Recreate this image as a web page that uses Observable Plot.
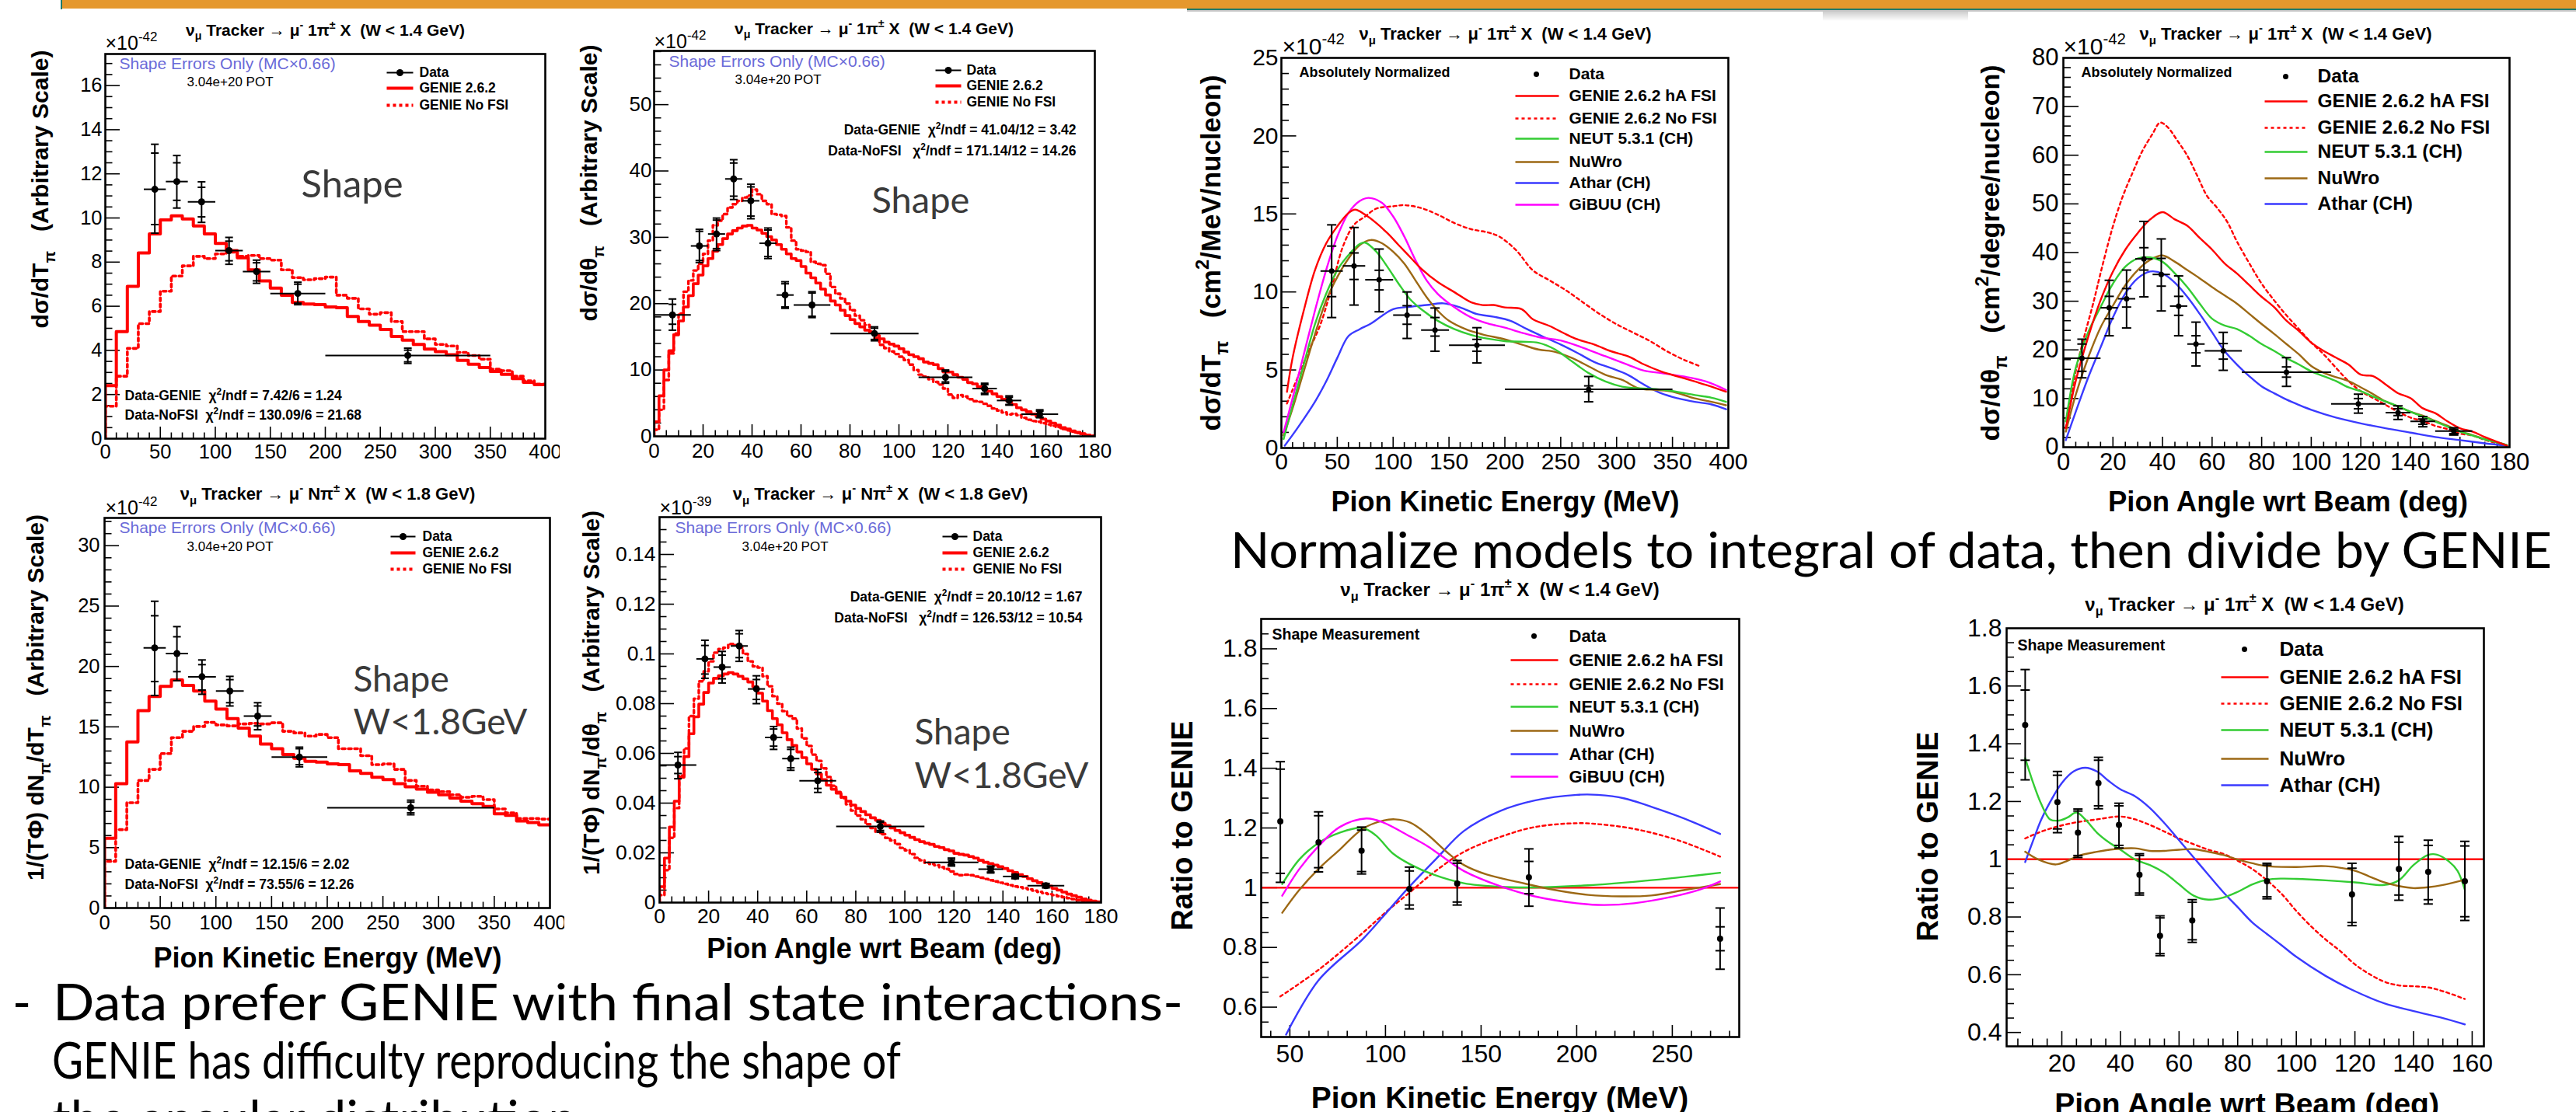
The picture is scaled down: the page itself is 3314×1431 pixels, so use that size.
<!DOCTYPE html>
<html>
<head>
<meta charset="utf-8">
<title>Charged pion production: shape and model comparisons</title>
<script src="https://cdn.jsdelivr.net/npm/d3@7"></script>
<script src="https://cdn.jsdelivr.net/npm/@observablehq/plot@0.6"></script>
<style>
  html, body { margin: 0; padding: 0; background: #fff; }
  #slide { position: relative; width: 3314px; height: 1431px; overflow: hidden; background: #fff; }
  #slide > svg, #slide > div { position: absolute; }
</style>
</head>
<body>
<div id="slide"></div>
<script>
// ---------------- binning ----------------
const tpiX  = [45, 65, 87.5, 112.5, 137.5, 175, 275];
const tpiLo = [35, 55, 75, 100, 125, 150, 200];
const tpiHi = [55, 75, 100, 125, 150, 200, 350];
const thX  = [7.5, 18.5, 25.5, 32.5, 39.5, 46.5, 53.5, 64.5, 90, 119, 135, 145, 157.5];
const thLo = [0, 15, 22, 29, 36, 43, 50, 57, 72, 108, 130, 140, 150];
const thHi = [15, 22, 29, 36, 43, 50, 57, 72, 108, 130, 140, 150, 165];

// ---------------- shape plots, W < 1.4 GeV, T_pi (x1e-42) ----------------
const shT14Y     = [11.3, 11.65, 10.73, 8.52, 7.57, 6.58, 3.77];
const shT14OutLo = [9.31, 10.45, 9.8, 7.9, 7.04, 6.07, 3.41];
const shT14OutHi = [13.34, 12.83, 11.64, 9.12, 8.09, 7.09, 4.1];
const shT14InLo  = [9.7, 10.8, 10.05, 8.06, 7.15, 6.14, 3.48];
const shT14InHi  = [12.94, 12.5, 11.39, 8.95, 7.97, 7.0, 4.01];
// 10 MeV histogram bins starting at 0
const genieT14 = [2.4, 4.85, 6.9, 8.42, 9.28, 9.91, 10.1, 9.96, 9.64, 9.28, 8.85, 8.52, 8.2, 7.65, 7.15, 6.82, 6.5, 6.17, 6.1, 6.07,
  5.97, 5.93, 5.54, 5.31, 5.14, 4.95, 4.63, 4.46, 4.27, 4.06, 3.94, 3.8, 3.55, 3.37, 3.22, 3.05, 2.91, 2.72, 2.55, 2.45];
const noFsiT14 = [1.47, 2.83, 4.09, 5.21, 5.76, 6.68, 7.37, 7.83, 8.26, 8.16, 8.37, 8.45, 8.26, 8.3, 8.16, 8.09, 7.65, 7.3, 7.2, 7.25,
  7.32, 6.5, 6.36, 5.88, 5.64, 5.71, 5.31, 4.85, 4.85, 4.52, 4.27, 4.2, 3.91, 3.77, 3.6, 3.15, 3.08, 2.83, 2.62, 2.47];

// ---------------- shape plots, W < 1.4 GeV, theta_pi (x1e-42) ----------------
const shA14Y     = [18.3, 28.7, 30.5, 38.8, 35.5, 29.1, 21.3, 19.8, 15.5, 8.9, 7.2, 5.4, 3.35];
const shA14OutLo = [16.0, 26.2, 28.0, 35.7, 32.8, 26.8, 19.3, 17.9, 14.4, 8.0, 6.3, 4.7, 2.8];
const shA14OutHi = [20.7, 31.2, 32.9, 41.7, 38.0, 31.4, 23.3, 21.8, 16.5, 10.0, 8.0, 6.1, 4.0];
const shA14InLo  = [16.9, 26.5, 28.3, 36.2, 33.2, 27.1, 19.5, 18.1, 14.6, 8.2, 6.5, 4.8, 2.9];
const shA14InHi  = [19.9, 30.9, 32.6, 41.2, 37.6, 31.1, 23.0, 21.6, 16.3, 9.8, 7.8, 5.9, 3.8];
// 2 degree histogram bins starting at 0
const genieA14 = [2.2, 6.1, 10.0, 12.9, 15.3, 17.4, 19.5, 21.2, 23.0, 24.3, 25.7, 26.8, 27.9, 28.9, 29.8, 30.5, 31.0, 31.4, 31.7, 31.8,
  31.4, 31.1, 30.6, 30.1, 29.6, 28.9, 28.2, 27.5, 26.8, 26.5, 25.6, 24.6, 23.9, 23.1, 22.2, 21.3, 20.4, 19.8, 19.0, 18.2,
  17.6, 17.0, 16.5, 16.0, 15.6, 15.2, 14.7, 14.2, 13.9, 13.6, 13.2, 12.7, 12.3, 12.0, 11.7, 11.2, 11.0, 10.8, 10.2, 9.7,
  9.7, 9.3, 8.9, 8.6, 8.1, 7.9, 7.5, 7.2, 6.8, 6.4, 6.0, 5.6, 5.3, 4.8, 4.3, 4.0, 3.7, 3.35, 3.0, 2.6,
  2.3, 2.0, 1.7, 1.3, 1.1, 0.8, 0.6, 0.4, 0.2, 0.05];
const noFsiA14 = [1.0, 4.0, 8.5, 12.5, 15.5, 18.5, 21.8, 23.5, 25.0, 26.0, 27.5, 29.5, 31.8, 32.5, 33.5, 34.5, 35.0, 35.5, 36.0, 36.3,
  37.2, 36.5, 35.5, 35.0, 33.5, 33.4, 33.2, 31.5, 29.5, 28.2, 28.0, 27.8, 26.3, 26.0, 25.8, 24.5, 22.5, 21.5, 20.8, 20.0,
  19.0, 18.2, 17.5, 16.8, 15.8, 14.8, 13.8, 13.3, 12.8, 12.4, 12.0, 11.5, 10.8, 10.0, 9.3, 9.0, 8.6, 8.2, 7.8, 7.2,
  6.3, 5.8, 6.2, 6.0, 5.6, 5.3, 5.2, 4.9, 4.6, 4.2, 3.9, 3.6, 3.3, 3.4, 3.2, 2.8, 2.5, 2.3, 2.2, 2.0,
  1.8, 1.6, 1.4, 1.1, 0.9, 0.7, 0.5, 0.35, 0.2, 0.1];

// ---------------- shape plots, W < 1.8 GeV, T_pi (x1e-42) ----------------
const shT18Y     = [21.54, 21.07, 19.15, 17.97, 15.89, 12.5, 8.3];
const shT18OutLo = [17.6, 18.83, 17.7, 16.73, 14.76, 11.69, 7.72];
const shT18OutHi = [25.4, 23.3, 20.54, 19.18, 17.0, 13.32, 8.93];
const shT18InLo  = [18.75, 19.57, 18.05, 17.0, 15.08, 11.87, 7.88];
const shT18InHi  = [24.2, 22.46, 20.15, 18.91, 16.73, 13.19, 8.77];
const genieT18 = [5.78, 10.3, 13.76, 16.34, 17.52, 18.36, 18.89, 18.44, 17.97, 17.13, 16.47, 15.68, 14.89, 14.24, 13.58, 13.19, 12.71, 12.4, 12.14, 12.08,
  11.93, 11.87, 11.35, 11.14, 10.82, 10.64, 10.3, 10.03, 9.85, 9.59, 9.38, 9.11, 8.85, 8.64, 8.41, 7.8, 7.67, 7.2, 7.07, 6.88];
const noFsiT18 = [3.86, 6.49, 8.72, 10.56, 11.48, 12.79, 14.11, 14.63, 15.03, 15.37, 15.16, 15.08, 15.24, 15.29, 15.24, 15.34, 14.63, 14.5, 14.24, 14.37,
  14.11, 13.19, 13.19, 12.61, 11.87, 11.93, 11.48, 10.56, 10.09, 9.77, 9.64, 9.38, 9.17, 9.25, 8.98, 8.2, 7.88, 7.41, 7.41, 7.36];

// ---------------- shape plots, W < 1.8 GeV, theta_pi (x1e-39) ----------------
const shA18Y     = [0.0553, 0.098, 0.0947, 0.1032, 0.0859, 0.0664, 0.0579, 0.049, 0.0306, 0.0162, 0.0134, 0.0105, 0.0068];
const shA18OutLo = [0.0498, 0.0902, 0.0883, 0.097, 0.08, 0.0616, 0.0532, 0.0443, 0.0283, 0.0147, 0.0119, 0.0096, 0.0059];
const shA18OutHi = [0.0604, 0.1055, 0.101, 0.1094, 0.0912, 0.0708, 0.0625, 0.0536, 0.0328, 0.0179, 0.0147, 0.0114, 0.0077];
const shA18InLo  = [0.0519, 0.0919, 0.09, 0.0985, 0.0817, 0.0629, 0.0542, 0.0459, 0.029, 0.0152, 0.0123, 0.0099, 0.0062];
const shA18InHi  = [0.0587, 0.1034, 0.0995, 0.1081, 0.0897, 0.0698, 0.0616, 0.0523, 0.0323, 0.0172, 0.0143, 0.0111, 0.0074];
const genieA18 = [0.0064, 0.0179, 0.0304, 0.0408, 0.0504, 0.0587, 0.0679, 0.0747, 0.0798, 0.0845, 0.0883, 0.0902, 0.0912, 0.0919, 0.0925, 0.0919, 0.091, 0.09, 0.0887, 0.0868,
  0.0842, 0.081, 0.0772, 0.074, 0.0715, 0.0683, 0.0655, 0.0632, 0.0606, 0.0583, 0.0558, 0.0536, 0.0517, 0.0494, 0.0472, 0.0456, 0.044, 0.0424, 0.0408, 0.0392,
  0.0379, 0.0366, 0.0353, 0.0341, 0.0331, 0.0319, 0.031, 0.03, 0.029, 0.0281, 0.0271, 0.0262, 0.0253, 0.0245, 0.0239, 0.0234, 0.0226, 0.0221, 0.0213, 0.0208,
  0.0198, 0.0194, 0.0191, 0.0185, 0.0179, 0.017, 0.0162, 0.0157, 0.0151, 0.0144, 0.0137, 0.0128, 0.0121, 0.0112, 0.0105, 0.0096, 0.0088, 0.008, 0.0073, 0.0066,
  0.0057, 0.005, 0.0042, 0.0034, 0.0028, 0.0022, 0.0015, 0.001, 0.0006, 0.0003];
const noFsiA18 = [0.003, 0.013, 0.026, 0.038, 0.051, 0.062, 0.075, 0.082, 0.089, 0.093, 0.097, 0.1005, 0.102, 0.1025, 0.104, 0.1035, 0.1025, 0.1, 0.097, 0.095,
  0.0945, 0.091, 0.087, 0.083, 0.08, 0.077, 0.075, 0.074, 0.07, 0.066, 0.063, 0.0595, 0.057, 0.054, 0.0505, 0.047, 0.0445, 0.042, 0.0395, 0.037,
  0.035, 0.0335, 0.0315, 0.03, 0.0285, 0.0275, 0.026, 0.025, 0.0235, 0.022, 0.021, 0.0195, 0.018, 0.017, 0.016, 0.0155, 0.015, 0.0142, 0.0135, 0.0125,
  0.0115, 0.011, 0.0112, 0.011, 0.0105, 0.01, 0.0095, 0.009, 0.0085, 0.008, 0.0075, 0.007, 0.0065, 0.0062, 0.0058, 0.0053, 0.0048, 0.0043, 0.0038, 0.0034,
  0.003, 0.0026, 0.0022, 0.0018, 0.0014, 0.001, 0.0007, 0.0004, 0.0002, 0.0001];

// ---------------- absolute cross sections, T_pi (x1e-42 cm2/MeV/nucleon) ----------------
const xsT    = [11.34, 11.67, 10.78, 8.51, 7.56, 6.59, 3.76];
const xsTOutLo = [8.36, 9.16, 8.73, 7.02, 6.2, 5.45, 2.96];
const xsTOutHi = [14.3, 14.13, 12.75, 10.0, 8.97, 7.71, 4.58];
const xsTInLo  = [9.7, 10.8, 10.13, 7.93, 7.17, 6.2, 3.6];
const xsTInHi  = [12.94, 12.5, 11.39, 9.12, 8.36, 6.96, 3.98];
const genieTX = [5, 10, 20, 30, 40, 50, 60, 66, 75, 85, 95, 105, 115, 125, 140, 155, 170, 180, 190, 200, 215, 225, 240, 255, 265, 280, 295, 310, 325, 340, 355, 370, 385, 398];
const genieTY = [3.6, 5.77, 8.8, 11.39, 13.1, 14.2, 15.06, 15.28, 14.95, 14.41, 13.76, 13.0, 12.25, 11.5, 10.63, 9.98, 9.33, 9.16, 9.16, 9.01, 8.9, 8.25, 7.82, 7.28, 6.96, 6.63, 6.2, 5.88, 5.34, 4.9, 4.58, 4.26, 3.93, 3.61];
const noFsiTX = [5, 15, 25, 35, 45, 55, 65, 75, 85, 100, 110, 125, 140, 155, 170, 185, 195, 210, 225, 240, 255, 270, 285, 300, 315, 330, 345, 360, 375];
const noFsiTY = [2.85, 4.6, 6.3, 7.93, 10.3, 12.9, 14.3, 14.84, 15.34, 15.49, 15.56, 15.38, 14.95, 14.41, 14.02, 13.81, 13.55, 12.68, 11.39, 10.74, 10.09, 9.33, 8.58, 7.93, 7.39, 6.85, 6.2, 5.66, 5.23];
const neutTX = [2, 10, 20, 30, 40, 50, 60, 70, 75, 85, 95, 105, 115, 125, 140, 155, 170, 185, 200, 215, 230, 245, 260, 275, 290, 305, 320, 335, 350, 370, 385, 398];
const neutTY = [0.58, 2.74, 5.34, 7.93, 9.87, 11.39, 12.36, 13.07, 13.16, 12.58, 11.6, 10.52, 9.55, 8.9, 8.15, 7.61, 7.24, 7.0, 6.85, 6.81, 6.74, 6.31, 5.55, 4.8, 4.26, 3.93, 3.82, 3.78, 3.65, 3.39, 3.22, 2.96];
const nuwroTX = [2, 10, 20, 30, 40, 50, 60, 70, 80, 90, 100, 110, 120, 130, 140, 150, 165, 180, 200, 215, 230, 245, 260, 275, 290, 305, 320, 335, 350, 370, 385, 398];
const nuwroTY = [0.8, 2.53, 4.9, 7.28, 9.44, 10.95, 12.14, 13.0, 13.33, 13.12, 12.58, 11.82, 10.74, 9.66, 8.79, 8.15, 7.61, 7.28, 6.96, 6.63, 6.31, 6.16, 5.77, 5.23, 4.69, 4.36, 3.82, 3.72, 3.61, 3.18, 2.96, 2.74];
const atharTX = [3, 15, 30, 40, 50, 60, 70, 80, 90, 100, 115, 130, 145, 160, 175, 190, 205, 220, 235, 250, 265, 280, 295, 310, 325, 340, 355, 370, 385, 398];
const atharTY = [0.15, 1.34, 2.96, 4.26, 5.77, 7.17, 7.61, 7.97, 8.47, 8.9, 9.05, 9.16, 9.27, 9.01, 8.58, 8.41, 8.15, 7.61, 7.11, 6.63, 6.09, 5.51, 5.12, 4.69, 4.04, 3.5, 3.18, 2.96, 2.79, 2.48];
const gibuuTX = [2, 10, 20, 30, 40, 50, 60, 70, 78, 90, 100, 110, 120, 130, 140, 155, 170, 185, 200, 215, 230, 250, 270, 290, 310, 325, 340, 360, 380, 398];
const gibuuTY = [1.02, 3.18, 5.99, 8.79, 11.39, 13.55, 15.06, 15.82, 16.03, 15.71, 14.84, 13.55, 12.04, 10.74, 9.87, 9.01, 8.36, 7.97, 7.71, 7.39, 7.11, 6.89, 6.42, 5.88, 5.34, 4.95, 4.8, 4.58, 4.26, 3.72];

// ---------------- absolute cross sections, theta_pi (x1e-42 cm2/degree/nucleon) ----------------
const xsA      = [18.27, 28.65, 30.5, 38.7, 35.5, 29.0, 21.2, 19.8, 15.4, 8.9, 7.1, 5.3, 3.3];
const xsAOutLo = [14.26, 22.9, 24.5, 30.9, 28.0, 22.9, 16.7, 15.8, 12.5, 7.0, 5.7, 4.2, 2.5];
const xsAOutHi = [22.2, 34.3, 36.4, 46.4, 42.8, 35.2, 25.7, 23.6, 18.4, 10.9, 8.5, 6.3, 4.0];
const xsAInLo  = [15.6, 26.4, 28.8, 36.4, 33.1, 27.1, 19.4, 18.1, 14.4, 7.9, 6.5, 4.7, 2.8];
const xsAInHi  = [21.2, 31.0, 32.6, 41.0, 38.8, 31.0, 22.9, 21.3, 16.5, 10.0, 7.9, 5.8, 3.7];
const angGrid = [1, 5, 10, 15, 20, 25, 30, 35, 40, 45, 50, 55, 60, 65, 70, 75, 80, 85, 90, 95, 100, 105, 110, 115, 120, 125, 130, 135, 140, 145, 150, 155, 160, 165, 170, 175, 179];
const genieAY = [3.9, 13.6, 22.6, 30.2, 36.1, 40.6, 44.0, 46.8, 48.3, 46.8, 45.5, 43.0, 40.6, 37.8, 35.7, 33.3, 30.9, 28.8, 26.0, 23.9, 21.5, 19.8, 18.4, 17.0, 14.9, 14.6, 12.9, 11.1, 10.1, 8.0, 7.0, 5.3, 3.9, 3.2, 2.1, 1.1, 0.3];
const neutAY  = [5.3, 16.3, 23.6, 28.8, 33.6, 37.1, 38.8, 39.0, 38.1, 35.7, 32.9, 29.5, 26.4, 25.0, 24.3, 22.9, 21.2, 19.8, 18.3, 17.0, 15.6, 14.6, 13.6, 12.3, 11.5, 10.4, 9.4, 8.4, 7.3, 6.3, 5.3, 4.2, 3.2, 2.4, 1.6, 1.0, 0.4];
const nuwroAY = [3.2, 10.8, 18.4, 24.6, 29.1, 33.3, 36.4, 38.5, 39.4, 38.1, 36.4, 34.7, 32.9, 31.2, 29.5, 27.4, 25.3, 23.3, 21.2, 19.1, 16.7, 15.3, 14.4, 13.6, 12.3, 10.9, 9.4, 8.4, 7.3, 6.5, 5.4, 4.4, 3.3, 2.5, 1.7, 1.0, 0.4];
const atharAX = [1, 5, 10, 15, 20, 25, 30, 35, 40, 45, 50, 55, 60, 65, 70, 75, 80, 85, 90, 95, 100, 110, 120, 130, 140, 150, 160, 170, 179];
const atharAY = [1.45, 7.3, 14.3, 20.5, 26.7, 31.6, 34.7, 36.1, 35.7, 33.8, 30.9, 27.4, 23.6, 19.8, 17.0, 14.6, 12.5, 11.1, 9.8, 8.7, 7.7, 6.1, 4.9, 3.9, 3.0, 2.1, 1.45, 0.8, 0.3];
const noFsiAX = [1, 5, 8, 12, 16, 20, 24, 28, 32, 36, 39, 42, 46, 50, 54, 58, 62, 66, 70, 75, 80, 85, 90, 95, 100, 105, 110, 115, 120, 125, 130, 135, 140, 145, 150, 155, 160, 165, 170, 175, 179];
const noFsiAY = [3.9, 15.6, 21.9, 29.5, 37.8, 45.4, 51.6, 56.5, 61.0, 64.4, 66.7, 65.8, 63.0, 59.9, 55.8, 51.6, 49.2, 46.4, 42.3, 37.8, 33.6, 30.2, 27.1, 24.3, 21.5, 19.1, 16.3, 13.6, 11.5, 10.1, 8.7, 7.3, 6.1, 5.4, 4.4, 3.7, 2.8, 2.4, 1.5, 0.8, 0.3];

// ---------------- ratios to GENIE, T_pi ----------------
const rT      = [1.222, 1.152, 1.124, 0.996, 1.014, 1.035, 0.829];
const rTOutLo = [1.018, 1.053, 1.046, 0.929, 0.942, 0.938, 0.727];
const rTOutHi = [1.422, 1.254, 1.203, 1.069, 1.091, 1.13, 0.932];
const rTInLo  = [1.048, 1.067, 1.054, 0.942, 0.952, 0.98, 0.789];
const rTInHi  = [1.397, 1.241, 1.193, 1.056, 1.082, 1.088, 0.869];
const rGenieTX = [35, 285], rGenieTY = [1, 1];
const rNoFsiTX = [45, 65, 88, 100, 113, 125, 141, 160, 178, 200, 211, 230, 250, 264, 275];
const rNoFsiTY = [0.636, 0.725, 0.848, 0.917, 0.986, 1.05, 1.12, 1.17, 1.203, 1.216, 1.213, 1.197, 1.165, 1.133, 1.104];
const rAtharTX = [48, 65, 88, 101, 112, 127, 141, 160, 178, 200, 211, 225, 244, 260, 275];
const rAtharTY = [0.508, 0.69, 0.827, 0.92, 1.0, 1.1, 1.19, 1.257, 1.292, 1.311, 1.311, 1.299, 1.26, 1.222, 1.18];
const rNeutTX = [46, 55, 65, 76, 88, 95, 104, 113, 125, 141, 160, 178, 206, 234, 257, 275];
const rNeutTY = [1.012, 1.095, 1.15, 1.184, 1.2, 1.175, 1.114, 1.078, 1.044, 1.015, 1.003, 1.001, 1.008, 1.022, 1.037, 1.05];
const rNuwroTX = [46, 55, 65, 76, 88, 99, 105, 113, 122, 132, 141, 153, 170, 188, 206, 223, 239, 257, 275];
const rNuwroTY = [0.916, 0.993, 1.063, 1.127, 1.197, 1.225, 1.229, 1.218, 1.178, 1.12, 1.076, 1.044, 1.018, 0.993, 0.976, 0.971, 0.974, 0.993, 1.012];
const rGibuuTX = [46, 55, 65, 76, 90, 99, 111, 122, 132, 141, 160, 178, 200, 214, 230, 250, 264, 275];
const rGibuuTY = [0.973, 1.063, 1.139, 1.203, 1.232, 1.218, 1.178, 1.139, 1.094, 1.056, 1.005, 0.971, 0.948, 0.942, 0.948, 0.97, 0.993, 1.021];

// ---------------- ratios to GENIE, theta_pi ----------------
const rA      = [1.465, 1.198, 1.092, 1.264, 1.119, 0.946, 0.735, 0.788, 0.924, 0.878, 0.966, 0.956, 0.924];
const rAOutLo = [1.275, 1.092, 1.006, 1.175, 1.039, 0.876, 0.666, 0.712, 0.863, 0.77, 0.858, 0.845, 0.788];
const rAOutHi = [1.657, 1.304, 1.174, 1.353, 1.194, 1.019, 0.804, 0.86, 0.986, 0.986, 1.079, 1.066, 1.062];
const rAInLo  = [1.343, 1.105, 1.013, 1.185, 1.048, 0.883, 0.673, 0.721, 0.87, 0.781, 0.876, 0.86, 0.801];
const rAInHi  = [1.586, 1.291, 1.167, 1.343, 1.185, 1.013, 0.797, 0.851, 0.98, 0.969, 1.059, 1.048, 1.046];
const rGenieAX = [1, 164], rGenieAY = [1, 1];
const rNoFsiAX = [7.5, 12, 18, 25, 32, 40, 45, 50, 55, 60, 65, 70, 75, 80, 85, 90, 95, 100, 105, 110, 115, 120, 125, 130, 135, 140, 145, 150, 157.5];
const rNoFsiAY = [1.072, 1.092, 1.112, 1.128, 1.138, 1.148, 1.138, 1.119, 1.096, 1.072, 1.052, 1.033, 1.019, 0.995, 0.966, 0.927, 0.88, 0.821, 0.768, 0.722, 0.682, 0.636, 0.602, 0.576, 0.563, 0.56, 0.556, 0.543, 0.516];
const rAtharAX = [7.5, 10, 13, 16, 20, 24, 28, 32, 36, 40, 45, 50, 55, 60, 65, 70, 75, 80, 85, 90, 95, 100, 110, 120, 130, 140, 150, 157.5];
const rAtharAY = [0.99, 1.059, 1.138, 1.198, 1.264, 1.304, 1.317, 1.304, 1.271, 1.242, 1.218, 1.178, 1.125, 1.066, 1.006, 0.946, 0.887, 0.834, 0.781, 0.741, 0.702, 0.662, 0.596, 0.543, 0.501, 0.474, 0.45, 0.428];
const rNeutAX = [7.5, 10, 13, 16, 19, 22, 25, 28, 32, 36, 40, 45, 50, 55, 60, 65, 70, 75, 80, 85, 90, 95, 100, 110, 120, 130, 135, 140, 145, 148, 152, 155, 157.5];
const rNeutAY = [1.35, 1.271, 1.191, 1.138, 1.134, 1.145, 1.162, 1.138, 1.092, 1.059, 1.033, 0.999, 0.98, 0.953, 0.913, 0.874, 0.86, 0.867, 0.887, 0.913, 0.929, 0.933, 0.932, 0.927, 0.92, 0.911, 0.927, 0.98, 1.015, 1.016, 0.993, 0.96, 0.894];
const rNuwroAX = [7.5, 12, 18, 22, 26, 32, 38, 45, 50, 55, 60, 65, 70, 75, 80, 85, 90, 100, 110, 120, 125, 130, 135, 140, 145, 150, 157.5];
const rNuwroAY = [1.026, 0.999, 0.982, 0.995, 1.013, 1.026, 1.035, 1.038, 1.029, 1.029, 1.033, 1.035, 1.026, 1.015, 0.999, 0.986, 0.976, 0.973, 0.976, 0.96, 0.94, 0.92, 0.907, 0.9, 0.903, 0.911, 0.929];

// ---------------- tick labels ----------------
const keTicks = [0, 50, 100, 150, 200, 250, 300, 350, 400];
const angTicks = [0, 20, 40, 60, 80, 100, 120, 140, 160, 180];

// ---------------- text ----------------
const title14 = "ν_{μ} Tracker → μ^{-} 1π^{±} X  (W < 1.4 GeV)";
const title18 = "ν_{μ} Tracker → μ^{-} Nπ^{±} X  (W < 1.8 GeV)";
const shapeLegend = ["Data", "GENIE 2.6.2", "GENIE No FSI"];
const modelLegend = ["Data", "GENIE 2.6.2 hA FSI", "GENIE 2.6.2 No FSI", "NEUT 5.3.1 (CH)", "NuWro", "Athar (CH)", "GiBUU (CH)"];
const headline = "Normalize models to integral of data, then divide by GENIE";
const bulletLines = ["Data prefer GENIE with final state interactions-", "GENIE has difficulty reproducing the shape of", "the angular distribution"];

// ---------------- styling ----------------
const FONT = "'Liberation Sans', Arial, Helvetica, sans-serif";
const SLIDE_FONT = "Lato, 'Open Sans', sans-serif";
const RED = "#ff0000", GREEN = "#33cc33", BROWN = "#9c6814", BLUE = "#3a3aff", MAGENTA = "#ff00ff";
const NOTE_BLUE = "#6a6ad8", SHAPE_GRAY = "#3a3a3a";

const slide = document.getElementById("slide");

function minors(a, b, step, majors) {
  const out = [];
  const i0 = Math.ceil(a / step - 1e-6), i1 = Math.floor(b / step + 1e-6);
  for (let i = i0; i <= i1; i++) {
    const v = +(i * step).toFixed(6);
    if (v <= a || v >= b) continue;
    if (majors.some(m => Math.abs(m - v) < step * 1e-3)) continue;
    out.push(v);
  }
  return out;
}

// turn ^{..} and _{..} into raised / lowered tspans
function richText(svg) {
  svg.querySelectorAll("text").forEach(t => {
    const s = t.textContent;
    if (!/[\^_]\{/.test(s)) return;
    const fs = parseFloat(getComputedStyle(t).fontSize) || 12;
    const parts = [];
    const re = /([\^_])\{([^}]*)\}/g;
    let last = 0, m;
    while ((m = re.exec(s))) {
      if (m.index > last) parts.push({txt: s.slice(last, m.index), mode: 0});
      parts.push({txt: m[2], mode: m[1] === "^" ? 1 : -1});
      last = re.lastIndex;
    }
    if (last < s.length) parts.push({txt: s.slice(last), mode: 0});
    t.textContent = "";
    let shift = 0;
    for (const p of parts) {
      const ts = document.createElementNS("http://www.w3.org/2000/svg", "tspan");
      const target = p.mode === 1 ? -0.42 * fs : p.mode === -1 ? 0.28 * fs : 0;
      ts.setAttribute("dy", (target - shift).toFixed(2));
      shift = target;
      if (p.mode) ts.setAttribute("font-size", (0.68 * fs).toFixed(2));
      ts.textContent = p.txt;
      t.appendChild(ts);
    }
  });
}

function drawPanel(c) {
  const {box, frame, xd, yd} = c;
  const fw = frame.x2 - frame.x1, fh = frame.y2 - frame.y1;
  const X = px => xd[0] + (px - frame.x1) / fw * (xd[1] - xd[0]);
  const Y = py => yd[0] + (frame.y2 - py) / fh * (yd[1] - yd[0]);
  const DX = len => len / fw * (xd[1] - xd[0]);
  const DY = len => len / fh * (yd[1] - yd[0]);
  const at = (str, px, py, o = {}) => Plot.text([str], {
    text: d => d, frameAnchor: "top-left", dx: px - frame.x1, dy: py - frame.y1,
    textAnchor: o.anchor || "start", lineAnchor: o.line || "bottom",
    fontSize: o.size || 16, fontWeight: o.weight || "normal", fill: o.fill || "black",
    fontFamily: o.family || FONT, rotate: o.rotate || 0
  });
  const marks = [];
  const t = c.tick;
  const tk = {stroke: "black", strokeWidth: t.width};
  const inside = (v, d) => v > d[0] && v < d[1];
  marks.push(
    Plot.ruleX(c.xMajor.filter(v => inside(v, xd)), {x: d => d, y1: yd[0], y2: yd[0] + DY(t.xMaj), ...tk}),
    Plot.ruleX(minors(xd[0], xd[1], c.xMinorStep, c.xMajor), {x: d => d, y1: yd[0], y2: yd[0] + DY(t.xMin), ...tk}),
    Plot.ruleY(c.yMajor.filter(v => inside(v, yd)), {y: d => d, x1: xd[0], x2: xd[0] + DX(t.yMaj), ...tk}),
    Plot.ruleY(minors(yd[0], yd[1], c.yMinorStep, c.yMajor), {y: d => d, x1: xd[0], x2: xd[0] + DX(t.yMin), ...tk})
  );
  // histograms
  for (const h of c.hists || []) {
    const n = h.values.length;
    const pts = [{x: h.start, y: 0}, ...h.values.map((v, i) => ({x: h.start + i * h.width, y: v})), {x: h.start + n * h.width, y: h.values[n - 1]}];
    marks.push(Plot.line(pts, {x: "x", y: "y", curve: "step-after", stroke: h.stroke, strokeWidth: h.w, strokeDasharray: h.dash, clip: true}));
  }
  // smooth model curves
  for (const s of c.curves || []) {
    const pts = s.x.map((x, i) => ({x, y: s.y[i]}));
    marks.push(Plot.line(pts, {x: "x", y: "y", curve: "catmull-rom", stroke: s.stroke, strokeWidth: s.w, strokeDasharray: s.dash, clip: true}));
  }
  marks.push(Plot.frame({stroke: "black", strokeWidth: c.frameWidth}));
  // data points with two error bands (inner and total)
  if (c.data) {
    const d = c.data;
    const R = d.x.map((x, i) => ({x, y: d.y[i], lo: d.lo ? d.lo[i] : x, hi: d.hi ? d.hi[i] : x,
      oLo: d.oLo[i], oHi: d.oHi[i], iLo: d.iLo[i], iHi: d.iHi[i]}));
    const st = {stroke: "black", strokeWidth: d.w};
    if (d.lo) marks.push(Plot.link(R, {x1: "lo", x2: "hi", y1: "y", y2: "y", ...st}));
    marks.push(Plot.link(R, {x1: "x", x2: "x", y1: "oLo", y2: "oHi", ...st}));
    for (const k of ["oLo", "oHi", "iLo", "iHi"]) {
      marks.push(Plot.link(R, {x1: r => r.x - DX(d.cap), x2: r => r.x + DX(d.cap), y1: k, y2: k, ...st}));
    }
    marks.push(Plot.dot(R, {x: "x", y: "y", r: d.r, fill: "black", stroke: "none"}));
  }
  // legend
  if (c.legend) {
    const L = c.legend;
    L.items.forEach((it, i) => {
      const ly = L.rows[i];
      if (it.line) marks.push(Plot.link([it.label], {x1: X(L.lineX[0]), x2: X(L.lineX[1]), y1: Y(ly), y2: Y(ly),
        stroke: it.line, strokeWidth: it.w, strokeDasharray: it.dash}));
      if (it.dot) marks.push(Plot.dot([it.label], {x: X(L.dotX), y: Y(ly), r: it.dot, fill: "black", stroke: "none"}));
      marks.push(at(it.label, L.textX, ly, {size: L.size, weight: "bold", line: "middle"}));
    });
  }
  // tick labels
  const lab = c.labels;
  marks.push(
    Plot.text(c.xMajor, {x: d => d, text: d => String(d), frameAnchor: "bottom", dy: lab.xDy, lineAnchor: "middle",
      fontSize: lab.size, fill: "black"}),
    Plot.text(c.yMajor, {y: d => d, text: d => String(d), frameAnchor: "left", dx: lab.yDx, textAnchor: "end",
      lineAnchor: "middle", fontSize: lab.size, fill: "black"})
  );
  for (const tx of c.texts) marks.push(at(tx.s, tx.x, tx.y, tx));

  const svg = Plot.plot({
    width: box.r - box.l, height: box.b - box.t,
    marginLeft: frame.x1 - box.l, marginRight: box.r - frame.x2,
    marginTop: frame.y1 - box.t, marginBottom: box.b - frame.y2,
    x: {domain: xd, axis: null}, y: {domain: yd, axis: null},
    style: {background: "white", fontFamily: FONT, overflow: "hidden"},
    marks
  });
  svg.style.position = "absolute";
  svg.style.left = box.l + "px";
  svg.style.top = box.t + "px";
  svg.style.maxWidth = "none";
  slide.appendChild(svg);
  richText(svg);
}

function shapeLegendCfg(rows, lineX, textX) {
  return {rows, lineX, dotX: (lineX[0] + lineX[1]) / 2, textX, size: 17.5, items: [
    {label: shapeLegend[0], line: "black", w: 2, dot: 4.5},
    {label: shapeLegend[1], line: RED, w: 4},
    {label: shapeLegend[2], line: RED, w: 4, dash: "4,4"}
  ]};
}
function modelLegendCfg(rows, lineX, dotX, textX, size, withGibuu) {
  const items = [
    {label: modelLegend[0], dot: 3.5},
    {label: modelLegend[1], line: RED, w: 2.5},
    {label: modelLegend[2], line: RED, w: 2.5, dash: "4,4"},
    {label: modelLegend[3], line: GREEN, w: 2.5},
    {label: modelLegend[4], line: BROWN, w: 2.5},
    {label: modelLegend[5], line: BLUE, w: 2.5}
  ];
  if (withGibuu) items.push({label: modelLegend[6], line: MAGENTA, w: 2.5});
  return {rows, lineX, dotX, textX, size, items};
}
const shapeNotes = (bx, by, px, py) => [
  {s: "Shape Errors Only (MC×0.66)", x: bx, y: by, size: 21, fill: NOTE_BLUE},
  {s: "3.04e+20 POT", x: px, y: py, size: 17}
];
const chi = (lines, x, ys, anchor) => lines.map((s, i) => ({s, x, y: ys[i], size: 17.5, weight: "bold", line: "middle", anchor}));

// ---- top-left: T_pi shape, W < 1.4 GeV ----
drawPanel({
  box: {l: 0, t: 14, r: 720, b: 600}, frame: {x1: 135, x2: 701, y1: 69, y2: 564},
  xd: [0, 400], yd: [0, 17.43],
  xMajor: keTicks, xMinorStep: 10, yMajor: [0, 2, 4, 6, 8, 10, 12, 14, 16], yMinorStep: 0.5,
  tick: {xMaj: 15, xMin: 7.5, yMaj: 19, yMin: 9.5, width: 1.6}, frameWidth: 2.6,
  labels: {size: 25.5, xDy: 17, yDx: -4},
  hists: [
    {start: 0, width: 10, values: noFsiT14, stroke: RED, w: 3.6, dash: "4,4"},
    {start: 0, width: 10, values: genieT14, stroke: RED, w: 4}
  ],
  data: {x: tpiX, lo: tpiLo, hi: tpiHi, y: shT14Y, oLo: shT14OutLo, oHi: shT14OutHi, iLo: shT14InLo, iHi: shT14InHi, w: 2, cap: 5, r: 4.5},
  legend: shapeLegendCfg([93, 113, 135], [497, 531], 539),
  texts: [
    {s: title14, x: 418, y: 45, size: 21, weight: "bold", anchor: "middle"},
    {s: "×10^{-42}", x: 135, y: 63, size: 25},
    {s: "dσ/dT_{π}   (Arbitrary Scale)", x: 52, y: 243, size: 30, weight: "bold", anchor: "middle", line: "middle", rotate: -90},
    ...shapeNotes(153, 88, 240, 110),
    {s: "Shape", x: 387, y: 253, size: 49, family: SLIDE_FONT, fill: SHAPE_GRAY},
    ...chi(["Data-GENIE  χ^{2}/ndf = 7.42/6 = 1.24", "Data-NoFSI  χ^{2}/ndf = 130.09/6 = 21.68"], 160, [509, 534])
  ]
});

// ---- top, second: theta_pi shape, W < 1.4 GeV ----
drawPanel({
  box: {l: 721, t: 14, r: 1525, b: 600}, frame: {x1: 841, x2: 1408, y1: 65, y2: 561},
  xd: [0, 180], yd: [0, 58.1],
  xMajor: angTicks, xMinorStep: 5, yMajor: [0, 10, 20, 30, 40, 50], yMinorStep: 2,
  tick: {xMaj: 15, xMin: 7.5, yMaj: 19, yMin: 9.5, width: 1.6}, frameWidth: 2.6,
  labels: {size: 26, xDy: 19, yDx: -3},
  hists: [
    {start: 0, width: 2, values: noFsiA14, stroke: RED, w: 3.4, dash: "4,4"},
    {start: 0, width: 2, values: genieA14, stroke: RED, w: 3.6}
  ],
  data: {x: thX, lo: thLo, hi: thHi, y: shA14Y, oLo: shA14OutLo, oHi: shA14OutHi, iLo: shA14InLo, iHi: shA14InHi, w: 2, cap: 5, r: 4.5},
  legend: shapeLegendCfg([90, 110, 131], [1203, 1236], 1243),
  texts: [
    {s: title14, x: 1124, y: 43, size: 21, weight: "bold", anchor: "middle"},
    {s: "×10^{-42}", x: 841, y: 61, size: 25},
    {s: "dσ/dθ_{π}   (Arbitrary Scale)", x: 758, y: 235, size: 30, weight: "bold", anchor: "middle", line: "middle", rotate: -90},
    ...shapeNotes(860, 85, 945, 107),
    {s: "Shape", x: 1121, y: 273, size: 47, family: SLIDE_FONT, fill: SHAPE_GRAY},
    ...chi(["Data-GENIE  χ^{2}/ndf = 41.04/12 = 3.42", "Data-NoFSI   χ^{2}/ndf = 171.14/12 = 14.26"], 1384, [167, 194], "end")
  ]
});

// ---- bottom-left: T_pi shape, W < 1.8 GeV ----
drawPanel({
  box: {l: 0, t: 600, r: 726, b: 1262}, frame: {x1: 134, x2: 707, y1: 666, y2: 1168},
  xd: [0, 400], yd: [0, 32.3],
  xMajor: keTicks, xMinorStep: 10, yMajor: [0, 5, 10, 15, 20, 25, 30], yMinorStep: 1,
  tick: {xMaj: 15, xMin: 7.5, yMaj: 19, yMin: 9.5, width: 1.6}, frameWidth: 2.6,
  labels: {size: 25.5, xDy: 19, yDx: -6},
  hists: [
    {start: 0, width: 10, values: noFsiT18, stroke: RED, w: 3.6, dash: "4,4"},
    {start: 0, width: 10, values: genieT18, stroke: RED, w: 4}
  ],
  data: {x: tpiX, lo: tpiLo, hi: tpiHi, y: shT18Y, oLo: shT18OutLo, oHi: shT18OutHi, iLo: shT18InLo, iHi: shT18InHi, w: 2, cap: 5, r: 4.5},
  legend: shapeLegendCfg([690, 711, 732], [502, 534], 543),
  texts: [
    {s: title18, x: 421, y: 642, size: 22, weight: "bold", anchor: "middle"},
    {s: "×10^{-42}", x: 135, y: 661, size: 25},
    {s: "1/(TΦ) dN_{π}/dT_{π}   (Arbitrary Scale)", x: 46, y: 897, size: 30, weight: "bold", anchor: "middle", line: "middle", rotate: -90},
    ...shapeNotes(153, 685, 240, 708),
    {s: "Shape", x: 454, y: 889, size: 46, family: SLIDE_FONT, fill: SHAPE_GRAY},
    {s: "W<1.8GeV", x: 454, y: 944, size: 46, family: SLIDE_FONT, fill: SHAPE_GRAY},
    ...chi(["Data-GENIE  χ^{2}/ndf = 12.15/6 = 2.02", "Data-NoFSI  χ^{2}/ndf = 73.55/6 = 12.26"], 160, [1112, 1138]),
    {s: "Pion Kinetic Energy (MeV)", x: 421, y: 1244, size: 36, weight: "bold", anchor: "middle"}
  ]
});

// ---- bottom, second: theta_pi shape, W < 1.8 GeV ----
drawPanel({
  box: {l: 727, t: 600, r: 1495, b: 1262}, frame: {x1: 848, x2: 1416, y1: 665, y2: 1161},
  xd: [0, 180], yd: [0, 0.155],
  xMajor: angTicks, xMinorStep: 5, yMajor: [0, 0.02, 0.04, 0.06, 0.08, 0.1, 0.12, 0.14], yMinorStep: 0.005,
  tick: {xMaj: 15, xMin: 7.5, yMaj: 19, yMin: 9.5, width: 1.6}, frameWidth: 2.6,
  labels: {size: 26.5, xDy: 18, yDx: -5},
  hists: [
    {start: 0, width: 2, values: noFsiA18, stroke: RED, w: 3.4, dash: "4,4"},
    {start: 0, width: 2, values: genieA18, stroke: RED, w: 3.6}
  ],
  data: {x: thX, lo: thLo, hi: thHi, y: shA18Y, oLo: shA18OutLo, oHi: shA18OutHi, iLo: shA18InLo, iHi: shA18InHi, w: 2, cap: 5, r: 4.5},
  legend: shapeLegendCfg([690, 711, 732], [1212, 1244], 1251),
  texts: [
    {s: title18, x: 1132, y: 642, size: 22, weight: "bold", anchor: "middle"},
    {s: "×10^{-39}", x: 848, y: 661, size: 25},
    {s: "1/(TΦ) dN_{π}/dθ_{π}   (Arbitrary Scale)", x: 761, y: 891, size: 30, weight: "bold", anchor: "middle", line: "middle", rotate: -90},
    ...shapeNotes(868, 685, 954, 708),
    ...chi(["Data-GENIE  χ^{2}/ndf = 20.10/12 = 1.67", "Data-NoFSI   χ^{2}/ndf = 126.53/12 = 10.54"], 1392, [768, 795], "end"),
    {s: "Shape", x: 1176, y: 957, size: 46, family: SLIDE_FONT, fill: SHAPE_GRAY},
    {s: "W<1.8GeV", x: 1176, y: 1013, size: 46, family: SLIDE_FONT, fill: SHAPE_GRAY},
    {s: "Pion Angle wrt Beam (deg)", x: 1137, y: 1232, size: 36, weight: "bold", anchor: "middle"}
  ]
});

// ---- top right, first: absolute dsigma/dT ----
drawPanel({
  box: {l: 1530, t: 14, r: 2340, b: 690}, frame: {x1: 1648, x2: 2223, y1: 74, y2: 576},
  xd: [0, 400], yd: [0, 25],
  xMajor: keTicks, xMinorStep: 10, yMajor: [0, 5, 10, 15, 20, 25], yMinorStep: 1,
  tick: {xMaj: 14, xMin: 7, yMaj: 19.5, yMin: 10, width: 1.6}, frameWidth: 2.6,
  labels: {size: 30, xDy: 18, yDx: -4},
  curves: [
    {x: noFsiTX, y: noFsiTY, stroke: RED, w: 2.4, dash: "4,4"},
    {x: atharTX, y: atharTY, stroke: BLUE, w: 2.4},
    {x: nuwroTX, y: nuwroTY, stroke: BROWN, w: 2.4},
    {x: neutTX, y: neutTY, stroke: GREEN, w: 2.4},
    {x: gibuuTX, y: gibuuTY, stroke: MAGENTA, w: 2.4},
    {x: genieTX, y: genieTY, stroke: RED, w: 2.4}
  ],
  data: {x: tpiX, lo: tpiLo, hi: tpiHi, y: xsT, oLo: xsTOutLo, oHi: xsTOutHi, iLo: xsTInLo, iHi: xsTInHi, w: 2, cap: 6, r: 3.5},
  legend: modelLegendCfg([95, 123, 152, 178, 208, 235, 263], [1949, 2005], 1976, 2018, 21, true),
  texts: [
    {s: title14, x: 1936, y: 50, size: 22, weight: "bold", anchor: "middle"},
    {s: "×10^{-42}", x: 1649, y: 69, size: 30},
    {s: "dσ/dT_{π}   (cm^{2}/MeV/nucleon)", x: 1558, y: 325, size: 35, weight: "bold", anchor: "middle", line: "middle", rotate: -90},
    {s: "Absolutely Normalized", x: 1671, y: 98, size: 18, weight: "bold"},
    {s: "Pion Kinetic Energy (MeV)", x: 1936, y: 657, size: 36, weight: "bold", anchor: "middle"}
  ]
});

// ---- top right, second: absolute dsigma/dtheta ----
drawPanel({
  box: {l: 2440, t: 14, r: 3314, b: 690}, frame: {x1: 2654, x2: 3228, y1: 74, y2: 575},
  xd: [0, 180], yd: [0, 80],
  xMajor: angTicks, xMinorStep: 5, yMajor: [0, 10, 20, 30, 40, 50, 60, 70, 80], yMinorStep: 2,
  tick: {xMaj: 13, xMin: 6.5, yMaj: 20, yMin: 10, width: 1.6}, frameWidth: 2.6,
  labels: {size: 31, xDy: 20, yDx: -6},
  curves: [
    {x: noFsiAX, y: noFsiAY, stroke: RED, w: 2.4, dash: "4,4"},
    {x: atharAX, y: atharAY, stroke: BLUE, w: 2.4},
    {x: angGrid, y: nuwroAY, stroke: BROWN, w: 2.4},
    {x: angGrid, y: neutAY, stroke: GREEN, w: 2.4},
    {x: angGrid, y: genieAY, stroke: RED, w: 2.4}
  ],
  data: {x: thX, lo: thLo, hi: thHi, y: xsA, oLo: xsAOutLo, oHi: xsAOutHi, iLo: xsAInLo, iHi: xsAInHi, w: 2, cap: 6, r: 3.5},
  legend: modelLegendCfg([98, 130, 164, 195, 229, 262], [2913, 2968], 2940, 2981, 24.5, false),
  texts: [
    {s: title14, x: 2940, y: 50, size: 22, weight: "bold", anchor: "middle"},
    {s: "×10^{-42}", x: 2654, y: 69, size: 30},
    {s: "dσ/dθ_{π}   (cm^{2}/degree/nucleon)", x: 2561, y: 325, size: 34, weight: "bold", anchor: "middle", line: "middle", rotate: -90},
    {s: "Absolutely Normalized", x: 2677, y: 98, size: 18, weight: "bold"},
    {s: "Pion Angle wrt Beam (deg)", x: 2943, y: 657, size: 36.5, weight: "bold", anchor: "middle"}
  ]
});

// ---- bottom right, first: ratio to GENIE vs T_pi ----
drawPanel({
  box: {l: 1500, t: 734, r: 2340, b: 1431}, frame: {x1: 1622, x2: 2237, y1: 796, y2: 1334},
  xd: [35, 285], yd: [0.5, 1.9],
  xMajor: [50, 100, 150, 200, 250], xMinorStep: 10, yMajor: [0.6, 0.8, 1, 1.2, 1.4, 1.6, 1.8], yMinorStep: 0.05,
  tick: {xMaj: 15, xMin: 7.5, yMaj: 21, yMin: 10, width: 1.6}, frameWidth: 2.6,
  labels: {size: 32, xDy: 22, yDx: -5},
  curves: [
    {x: rGenieTX, y: rGenieTY, stroke: RED, w: 2.4},
    {x: rNoFsiTX, y: rNoFsiTY, stroke: RED, w: 2.4, dash: "4,4"},
    {x: rAtharTX, y: rAtharTY, stroke: BLUE, w: 2.4},
    {x: rNeutTX, y: rNeutTY, stroke: GREEN, w: 2.4},
    {x: rNuwroTX, y: rNuwroTY, stroke: BROWN, w: 2.4},
    {x: rGibuuTX, y: rGibuuTY, stroke: MAGENTA, w: 2.4}
  ],
  data: {x: tpiX, y: rT, oLo: rTOutLo, oHi: rTOutHi, iLo: rTInLo, iHi: rTInHi, w: 2, cap: 6, r: 4},
  legend: modelLegendCfg([818, 849, 880, 909, 940, 970, 999], [1943, 2004], 1973, 2018, 22, true),
  texts: [
    {s: title14, x: 1929, y: 766, size: 24, weight: "bold", anchor: "middle"},
    {s: "Shape Measurement", x: 1636, y: 822, size: 19.5, weight: "bold"},
    {s: "Ratio to GENIE", x: 1521, y: 1062, size: 38, weight: "bold", anchor: "middle", line: "middle", rotate: -90},
    {s: "Pion Kinetic Energy (MeV)", x: 1929, y: 1425, size: 39, weight: "bold", anchor: "middle"}
  ]
});

// ---- bottom right, second: ratio to GENIE vs theta_pi ----
drawPanel({
  box: {l: 2440, t: 734, r: 3314, b: 1431}, frame: {x1: 2581, x2: 3195, y1: 808, y2: 1346},
  xd: [1.17, 164], yd: [0.352, 1.8],
  xMajor: [20, 40, 60, 80, 100, 120, 140, 160], xMinorStep: 5, yMajor: [0.4, 0.6, 0.8, 1, 1.2, 1.4, 1.6, 1.8], yMinorStep: 0.05,
  tick: {xMaj: 19, xMin: 9.5, yMaj: 19, yMin: 10, width: 1.6}, frameWidth: 2.6,
  labels: {size: 32, xDy: 22, yDx: -6},
  curves: [
    {x: rGenieAX, y: rGenieAY, stroke: RED, w: 2.4},
    {x: rNoFsiAX, y: rNoFsiAY, stroke: RED, w: 2.4, dash: "4,4"},
    {x: rAtharAX, y: rAtharAY, stroke: BLUE, w: 2.4},
    {x: rNeutAX, y: rNeutAY, stroke: GREEN, w: 2.4},
    {x: rNuwroAX, y: rNuwroAY, stroke: BROWN, w: 2.4}
  ],
  data: {x: thX, y: rA, oLo: rAOutLo, oHi: rAOutHi, iLo: rAInLo, iHi: rAInHi, w: 2, cap: 6, r: 4},
  legend: modelLegendCfg([835, 871, 905, 939, 976, 1010], [2857, 2918], 2887, 2932, 26, false),
  texts: [
    {s: title14, x: 2887, y: 785, size: 24, weight: "bold", anchor: "middle"},
    {s: "Shape Measurement", x: 2595, y: 836, size: 19.5, weight: "bold"},
    {s: "Ratio to GENIE", x: 2480, y: 1076, size: 38, weight: "bold", anchor: "middle", line: "middle", rotate: -90},
    {s: "Pion Angle wrt Beam (deg)", x: 2890, y: 1433, size: 39, weight: "bold", anchor: "middle"}
  ]
});

// ---------------- slide text ----------------
(function slideText() {
  const svg = d3.create("svg").attr("width", 3314).attr("height", 1431)
    .style("position", "absolute").style("left", "0px").style("top", "0px")
    .style("pointer-events", "none").attr("font-family", SLIDE_FONT).attr("fill", "black");
  svg.append("text").attr("x", 1583).attr("y", 731).attr("font-size", 63)
    .attr("textLength", 1700).attr("lengthAdjust", "spacingAndGlyphs").text(headline);
  svg.append("text").attr("x", 16).attr("y", 1313).attr("font-size", 65).text("-");
  const xs = [68, 67, 67], ys = [1313, 1388, 1463], lens = [1454, 1092, 675];
  bulletLines.forEach((s, i) => svg.append("text").attr("x", xs[i]).attr("y", ys[i]).attr("font-size", 65)
    .attr("textLength", lens[i]).attr("lengthAdjust", "spacingAndGlyphs").text(s));
  slide.appendChild(svg.node());
})();

// ---------------- header band ----------------
(function header() {
  const add = (css) => { const d = document.createElement("div"); Object.assign(d.style, css); slide.appendChild(d); };
  add({left: "78px", top: "0px", width: "3236px", height: "11px", background: "#e5982d"});
  add({left: "78px", top: "0px", width: "2px", height: "12px", background: "#1f7a6c"});
  add({left: "1527px", top: "11px", width: "1787px", height: "2px", background: "#1f7a6c"});
  add({left: "1527px", top: "13px", width: "1787px", height: "2px", background: "#c8c8c8"});
  add({left: "2345px", top: "15px", width: "187px", height: "12px", background: "linear-gradient(#cfcfcf, rgba(255,255,255,0))"});
})();
</script>
</body>
</html>
